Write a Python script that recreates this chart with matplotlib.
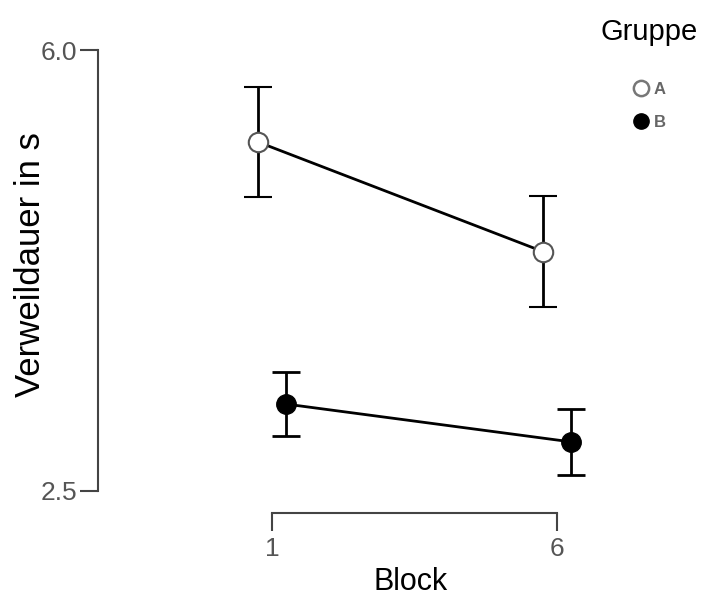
import matplotlib
matplotlib.use("Agg")
import matplotlib.pyplot as plt
from matplotlib.lines import Line2D

plt.rcParams['font.family'] = ['Liberation Sans', 'DejaVu Sans']

blocks = ["1", "6"]
groups = ["A", "B"]
means_A = [5.27, 4.40]
err_A = [0.44, 0.44]
means_B = [3.19, 2.89]
err_B = [0.255, 0.26]
yticks = [2.5, 6.0]
ytick_labels = ["2.5", "6.0"]

W, H = 714, 597
fig = plt.figure(figsize=(W / 100, H / 100), dpi=100)
# axes in pixel coords: left 98, right 640, top 40, bottom 513
ax = fig.add_axes([98 / W, (H - 513) / H, (640 - 98) / W, (513 - 40) / H])

xpx = 285.0
ypx = 126.0
x0 = -(272 - 98) / xpx
ax.set_xlim(x0, x0 + (640 - 98) / xpx)
y0 = 2.5 - (513 - 491) / ypx
ax.set_ylim(y0, y0 + (513 - 40) / ypx)

dodge = 14 / xpx
xs = [0, 1]
xa = [x - dodge for x in xs]
xb = [x + dodge for x in xs]

ax.errorbar(xa, means_A, yerr=err_A, color='black', lw=2, capsize=10, capthick=2,
            marker='o', markersize=14, markerfacecolor='white', markeredgecolor='#555555',
            markeredgewidth=1.5, zorder=3)
ax.errorbar(xb, means_B, yerr=err_B, color='black', lw=2, capsize=10, capthick=2,
            marker='o', markersize=14, markerfacecolor='black', markeredgecolor='black',
            zorder=3)

for s in ['top', 'right']:
    ax.spines[s].set_visible(False)
ax.spines['left'].set_bounds(2.5, 6.0)
ax.spines['bottom'].set_bounds(0, 1)
for s in ['left', 'bottom']:
    ax.spines[s].set_color('#444444')
    ax.spines[s].set_linewidth(1.5)

ax.set_xticks(xs)
ax.set_xticklabels(blocks)
ax.set_yticks(yticks)
ax.set_yticklabels(ytick_labels)
ax.tick_params(axis='both', colors='#444444', labelcolor='#555555', labelsize=19,
               length=13, width=1.5, direction='out')
ax.tick_params(axis='x', pad=4)
ax.tick_params(axis='y', pad=2)

ax.set_xlabel("Block", fontsize=22, color='black')
ax.set_ylabel("Verweildauer in s", fontsize=25, color='black')
ax.xaxis.set_label_coords((411 - 98) / (640 - 98), -(582 - 513) / (513 - 40))
ax.xaxis.label.set_va('center')
ax.yaxis.set_label_coords(-(98 - 30) / (640 - 98), (513 - 265) / (513 - 40))
ax.yaxis.label.set_va('center')

fig.text(649 / W, 1 - 32 / H, "Gruppe", fontsize=21, ha='center', va='center', color='black')
handles = [
    Line2D([], [], marker='o', linestyle='none', markersize=11, markerfacecolor='white',
           markeredgecolor='#777777', markeredgewidth=1.8),
    Line2D([], [], marker='o', linestyle='none', markersize=11, markerfacecolor='black',
           markeredgecolor='black'),
]
leg = fig.legend(handles, groups, loc='upper left', bbox_to_anchor=(633 / W, 1 - 82 / H),
                 frameon=False, fontsize=12, handletextpad=0.25, labelspacing=1.1,
                 handlelength=1.0, borderpad=0, borderaxespad=0)
for t in leg.get_texts():
    t.set_color('#666666')
    t.set_fontweight('bold')

fig.savefig("out.png", dpi=100)
